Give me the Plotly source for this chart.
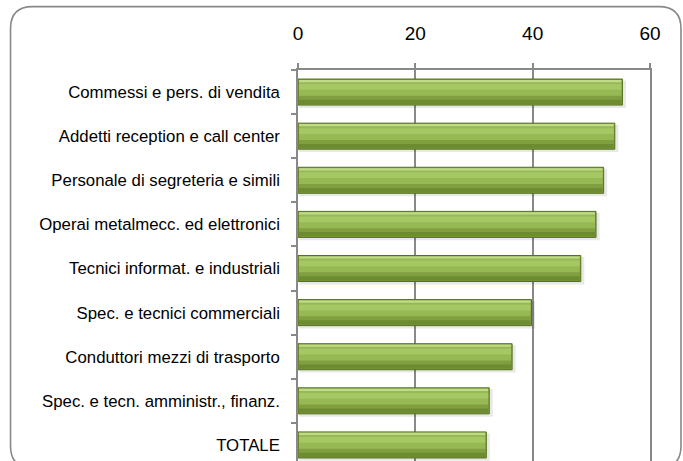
import plotly.graph_objects as go

categories = [
    "Commessi e pers. di vendita",
    "Addetti reception e call center",
    "Personale di segreteria e simili",
    "Operai metalmecc. ed elettronici",
    "Tecnici informat. e industriali",
    "Spec. e tecnici commerciali",
    "Conduttori mezzi di trasporto",
    "Spec. e tecn. amministr., finanz.",
    "TOTALE",
]
values = [55.3, 54.0, 52.1, 50.8, 48.2, 39.8, 36.5, 32.6, 32.1]
x_ticks = [0, 20, 40, 60]

W, H = 683, 461
L, R, T, B = 297.7, 33, 69.5, 0
pw, ph = W - L - R, H - T - B

def px2paper(px, py):
    return (px - L) / pw, (H - B - py) / ph

fig = go.Figure()

# shadow
fig.add_trace(go.Bar(y=categories, x=[v + 0.4 for v in values], base=0.2, orientation="h",
                     width=0.62, offset=-0.26, marker=dict(color="rgba(0,0,0,0.09)", line=dict(width=0)),
                     hoverinfo="skip"))
# main body
fig.add_trace(go.Bar(y=categories, x=values, orientation="h", width=0.59, offset=-0.295,
                     marker=dict(color="#819f40", line=dict(color="#55701f", width=1)),
                     hoverinfo="skip"))
inner = [v - 0.35 for v in values]
# upper lighter part
fig.add_trace(go.Bar(y=categories, x=inner, base=0.17, orientation="h", width=0.36, offset=-0.275,
                     marker=dict(color="#97b954", line=dict(width=0)), hoverinfo="skip"))
# highlight band
fig.add_trace(go.Bar(y=categories, x=inner, base=0.17, orientation="h", width=0.13, offset=-0.18,
                     marker=dict(color="#a6c864", line=dict(width=0)), hoverinfo="skip"))
# top edge highlight
fig.add_trace(go.Bar(y=categories, x=inner, base=0.17, orientation="h", width=0.05, offset=-0.274,
                     marker=dict(color="#bfdb88", line=dict(width=0)), hoverinfo="skip"))
# lower darker bevel
fig.add_trace(go.Bar(y=categories, x=inner, base=0.17, orientation="h", width=0.10, offset=0.175,
                     marker=dict(color="#6d8c32", line=dict(width=0)), hoverinfo="skip"))

# rounded border box
bx0, by0, bx1, by1, r = 10, 6, 681, 468, 22
x0p, y0p = px2paper(bx0, by0)
x1p, y1p = px2paper(bx1, by1)
rx, ry = r / pw, r / ph
path = (f"M {x0p+rx},{y0p} L {x1p-rx},{y0p} Q {x1p},{y0p} {x1p},{y0p-ry} "
        f"L {x1p},{y1p+ry} Q {x1p},{y1p} {x1p-rx},{y1p} L {x0p+rx},{y1p} "
        f"Q {x0p},{y1p} {x0p},{y1p+ry} L {x0p},{y0p-ry} Q {x0p},{y0p} {x0p+rx},{y0p} Z")
fig.add_shape(type="path", path=path, xref="paper", yref="paper",
              line=dict(color="#898989", width=1.6), layer="above")

fig.update_layout(
    width=W, height=H,
    margin=dict(l=L, r=R, t=T, b=B, pad=0),
    barmode="overlay",
    showlegend=False,
    paper_bgcolor="white", plot_bgcolor="white",
    font=dict(family="Liberation Sans, Arial, sans-serif", color="#000000"),
)
fig.update_xaxes(
    side="top", range=[0, 60], tickvals=x_ticks, ticktext=[str(t) for t in x_ticks],
    showgrid=True, gridcolor="#898989", gridwidth=1.5, zeroline=False,
    showline=True, linecolor="#898989", linewidth=1.5,
    ticks="outside", ticklen=5, tickcolor="#898989", tickwidth=1.5,
    tickfont=dict(size=19), ticklabelstandoff=16, automargin=False, fixedrange=True,
)
fig.update_yaxes(
    type="category", categoryorder="array", categoryarray=categories,
    range=[8.364, -0.5], showgrid=False, zeroline=False,
    showline=True, mirror=True, linecolor="#898989", linewidth=1.5,
    ticks="outside", tickson="boundaries", ticklen=5, tickcolor="#898989", tickwidth=1.5,
    tickfont=dict(size=16.8), ticklabelstandoff=13, automargin=False, fixedrange=True,
)

fig.write_html("out.html", config={"displayModeBar": False},
               post_script="document.body.style.margin='0';document.body.style.padding='0';document.body.style.overflow='hidden';")
